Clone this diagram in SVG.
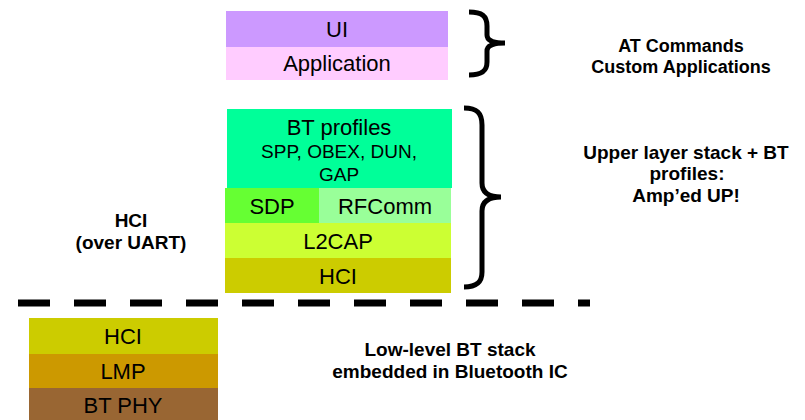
<svg xmlns="http://www.w3.org/2000/svg" width="805" height="420" viewBox="0 0 805 420">
<style>
.lbl{font-family:"Liberation Sans",Arial,sans-serif;font-size:22px;fill:#000;text-anchor:middle}
.sub{font-size:19px}
.note{font-family:"Liberation Sans",Arial,sans-serif;font-size:19px;font-weight:bold;fill:#000;text-anchor:middle}
.brace{fill:none;stroke:#000;stroke-width:5;stroke-linecap:butt}
</style>
<rect width="805" height="420" fill="#fff"/>
<g id="ui"><rect x="226" y="11" width="222" height="36" fill="#cc99ff"/><text class="lbl" x="337" y="37">UI</text></g>
<g id="application"><rect x="226" y="47" width="222" height="33" fill="#ffccff"/><text class="lbl" x="337" y="71">Application</text></g>
<g id="bt-profiles"><rect x="227" y="109" width="225" height="79" fill="#00ff99"/><text class="lbl" x="339" y="135">BT profiles</text><text class="lbl sub" x="339" y="158">SPP, OBEX, DUN,</text><text class="lbl sub" x="339" y="181">GAP</text></g>
<g id="sdp"><rect x="225" y="188" width="94" height="35" fill="#66ff33"/><text class="lbl" x="272" y="214">SDP</text></g>
<g id="rfcomm"><rect x="319" y="188" width="132" height="35" fill="#99ff99"/><text class="lbl" x="385" y="214">RFComm</text></g>
<g id="l2cap"><rect x="225" y="223" width="226" height="35" fill="#ccff33"/><text class="lbl" x="338" y="249">L2CAP</text></g>
<g id="hci-upper"><rect x="225" y="258" width="226" height="35" fill="#cccc00"/><text class="lbl" x="338" y="284">HCI</text></g>
<g id="hci-lower"><rect x="29" y="318" width="189" height="36" fill="#cccc00"/><text class="lbl" x="123" y="344">HCI</text></g>
<g id="lmp"><rect x="29" y="354" width="189" height="34" fill="#cc9900"/><text class="lbl" x="123" y="379">LMP</text></g>
<g id="bt-phy"><rect x="29" y="388" width="189" height="32" fill="#996633"/><text class="lbl" x="123" y="413">BT PHY</text></g>
<g id="connectors">
<line x1="18" y1="303" x2="590" y2="303" stroke="#000" stroke-width="7" stroke-dasharray="32 24"/>
<path class="brace" d="M469,12 C482,12 487,16 487,26 L487,35 C487,40 492,43 505,43 C492,43 487,46 487,51 L487,62 C487,71 482,75 469,75"/>
<path class="brace" d="M464,108 C477,108 482,113 482,125 L482,183 C482,192 488,197 501,197 C488,197 482,202 482,211 L482,272 C482,282 477,287 464,287"/>
</g>
<g id="notes">
<text class="note" x="681" y="52" style="font-size:18px">AT Commands</text>
<text class="note" x="681" y="73" style="font-size:18px">Custom Applications</text>
<text class="note" x="686" y="159">Upper layer stack + BT</text>
<text class="note" x="687" y="180">profiles:</text>
<text class="note" x="686" y="202">Amp’ed UP!</text>
<text class="note" x="131" y="227">HCI</text>
<text class="note" x="131" y="249">(over UART)</text>
<text class="note" x="450" y="356">Low-level BT stack</text>
<text class="note" x="450" y="378">embedded in Bluetooth IC</text>
</g>
</svg>
